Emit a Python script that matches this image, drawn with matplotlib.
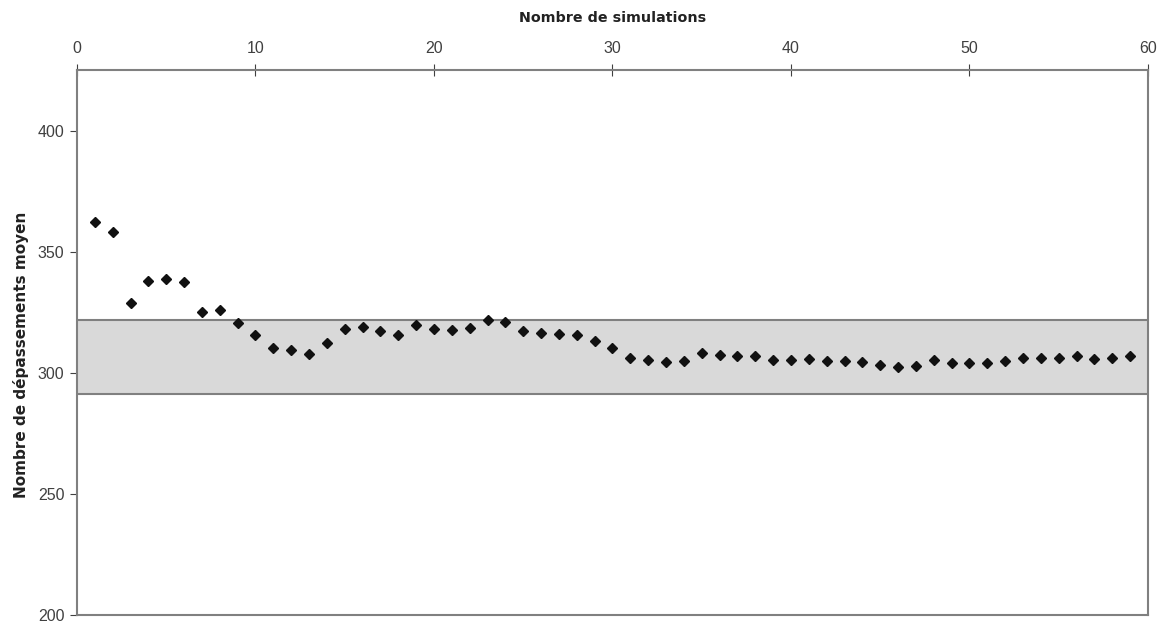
import matplotlib.pyplot as plt

# données
simulations = list(range(1, 60))
depassements = [
    362.1, 358.2, 329.0, 337.9, 338.9, 337.4, 325.0, 326.1, 320.5, 315.6,
    310.2, 309.3, 307.8, 312.1, 318.2, 319.1, 317.1, 315.6, 319.6, 318.2,
    317.6, 318.5, 321.7, 321.1, 317.1, 316.6, 316.1, 315.7, 313.1, 310.2,
    306.2, 305.2, 304.4, 304.8, 308.3, 307.2, 306.8, 306.8, 305.2, 305.3,
    305.7, 304.7, 304.8, 304.4, 303.2, 302.2, 302.8, 305.4, 303.9, 303.9,
    303.9, 304.9, 306.3, 306.3, 306.3, 306.9, 305.8, 306.3, 306.8,
]
bande_min = 291.4
bande_max = 321.9

plt.rcParams['font.family'] = ['Liberation Sans', 'DejaVu Sans']

fig = plt.figure(figsize=(11.59, 6.23), dpi=100)
ax = fig.add_axes([0.0664, 0.0128, 0.9241, 0.8748])

# bande grise (intervalle)
ax.axhspan(bande_min, bande_max, facecolor='#d9d9d9', edgecolor='none', zorder=1)
ax.axhline(bande_min, color='#808080', lw=1.5, zorder=2)
ax.axhline(bande_max, color='#808080', lw=1.5, zorder=2)

ax.plot(simulations, depassements, linestyle='none', marker='D',
        markersize=5.5, color='#111111', zorder=3)

ax.set_xlim(0, 60)
ax.set_ylim(200, 425)
ax.set_xticks(range(0, 61, 10))
ax.set_yticks([200, 250, 300, 350, 400])

ax.xaxis.tick_top()
ax.xaxis.set_label_position('top')
ax.tick_params(axis='x', direction='inout', length=8, color='#404040',
               labelsize=11.5, labelcolor='#404040', pad=6)
ax.tick_params(axis='y', direction='out', length=5, color='#404040',
               labelsize=11.5, labelcolor='#404040', pad=4)

ax.set_xlabel('Nombre de simulations', fontsize=10.3, fontweight='bold',
              family='DejaVu Sans', color='#222222', labelpad=14)
ax.set_ylabel('Nombre de dépassements moyen', fontsize=11, fontweight='bold',
              family='DejaVu Sans', color='#222222', labelpad=6)
ax.yaxis.label.set_y(0.477)

for side in ax.spines.values():
    side.set_color('#808080')
    side.set_linewidth(1.5)

fig.savefig('out.png', dpi=100)
